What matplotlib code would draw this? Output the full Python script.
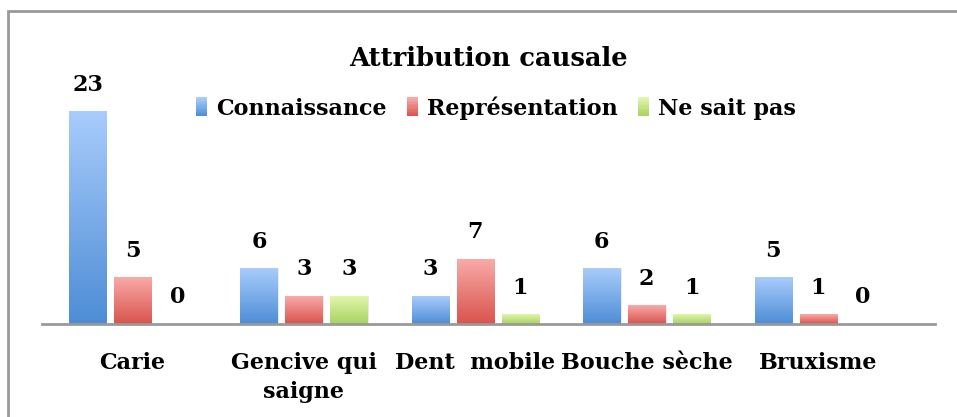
import matplotlib
matplotlib.use('Agg')
import matplotlib.pyplot as plt
import numpy as np
from matplotlib.colors import LinearSegmentedColormap
from matplotlib.patches import Rectangle
from matplotlib.legend_handler import HandlerBase

categories = ['Carie', 'Gencive qui\nsaigne', 'Dent  mobile', 'Bouche sèche', 'Bruxisme']
series = ['Connaissance', 'Représentation', 'Ne sait pas']
connaissance = [23, 6, 3, 6, 5]
representation = [5, 3, 7, 2, 1]
ne_sait_pas = [0, 3, 1, 1, 0]

# couleurs haut / bas du dégradé
grads = [('#a8ccfb', '#4e8dd6'), ('#f9aaa7', '#d9534e'), ('#e0f6aa', '#a9d262')]

plt.rcParams['font.family'] = ['DejaVu Serif']
plt.rcParams['font.weight'] = 'bold'

fig = plt.figure(figsize=(9.57, 4.17), dpi=100)
ax = fig.add_axes([42/957, 1-324/417, (935-42)/957, (324-93.5)/417])

# cadre du graphique
fig.patches.append(Rectangle((8/957, -0.1), 1.2, 1-11/417+0.1, transform=fig.transFigure,
                             fill=False, edgecolor='#999999', linewidth=2))

x = np.arange(len(categories))
w = 0.216
step = 0.262
data = [connaissance, representation, ne_sait_pas]
for k, vals in enumerate(data):
    top, bot = grads[k]
    cmap = LinearSegmentedColormap.from_list('g%d' % k, [bot, top])
    bars = ax.bar(x + (k-1)*step, vals, width=w, color='none', edgecolor='none', zorder=2)
    for b, v in zip(bars, vals):
        if v > 0:
            x0 = b.get_x()
            # petite ombre
            ax.add_patch(Rectangle((x0 + 0.008, 0), w, v, facecolor='#dddddd',
                                   edgecolor='none', zorder=1.5, alpha=0.6))
            ax.imshow(np.linspace(0, 1, 100).reshape(-1, 1), extent=[x0, x0+w, 0, v],
                      origin='lower', aspect='auto', cmap=cmap, zorder=2)
        ax.annotate(str(v), (b.get_x()+w/2, v), xytext=(0, 16), textcoords='offset pixels',
                    ha='center', va='bottom', fontsize=16, fontweight='bold')

ax.set_xlim(-0.528, 4.682)
ax.set_ylim(0, 25)
ax.set_xticks(x)
ax.set_xticklabels(categories, fontsize=16, fontweight='bold', linespacing=1.4)
ax.tick_params(axis='x', length=0, pad=20)
ax.set_yticks([])
for s in ['top', 'left', 'right']:
    ax.spines[s].set_visible(False)
ax.spines['bottom'].set_color('#999999')
ax.spines['bottom'].set_linewidth(2)
ax.spines['bottom'].set_zorder(3)


class GradHandler(HandlerBase):
    def __init__(self, top, bot):
        super().__init__()
        self.top, self.bot = top, bot

    def create_artists(self, legend, orig_handle, xdescent, ydescent, width, height, fontsize, trans):
        cmap = LinearSegmentedColormap.from_list('h', [self.bot, self.top])
        n = 12
        out = []
        hh = height * 1.2
        y0 = -ydescent + (height - hh) / 2
        for i in range(n):
            out.append(Rectangle((-xdescent, y0 + hh*i/n), width, hh/n + 0.3,
                                 facecolor=cmap(i/(n-1)), edgecolor='none', transform=trans))
        return out


handles = [Rectangle((0, 0), 1, 1) for _ in series]
hmap = {h: GradHandler(*g) for h, g in zip(handles, grads)}
fig.legend(handles, series, handler_map=hmap, loc='center', bbox_to_anchor=(496/957, 1-108/417),
           ncol=3, frameon=False, handlelength=0.5, handleheight=0.7,
           handletextpad=0.4, columnspacing=0.9, prop={'weight': 'bold', 'size': 16})

fig.text(488/957, 1-58/417, 'Attribution causale', ha='center', va='center',
         fontsize=18.5, fontweight='bold')

fig.savefig('out.png', dpi=100)
